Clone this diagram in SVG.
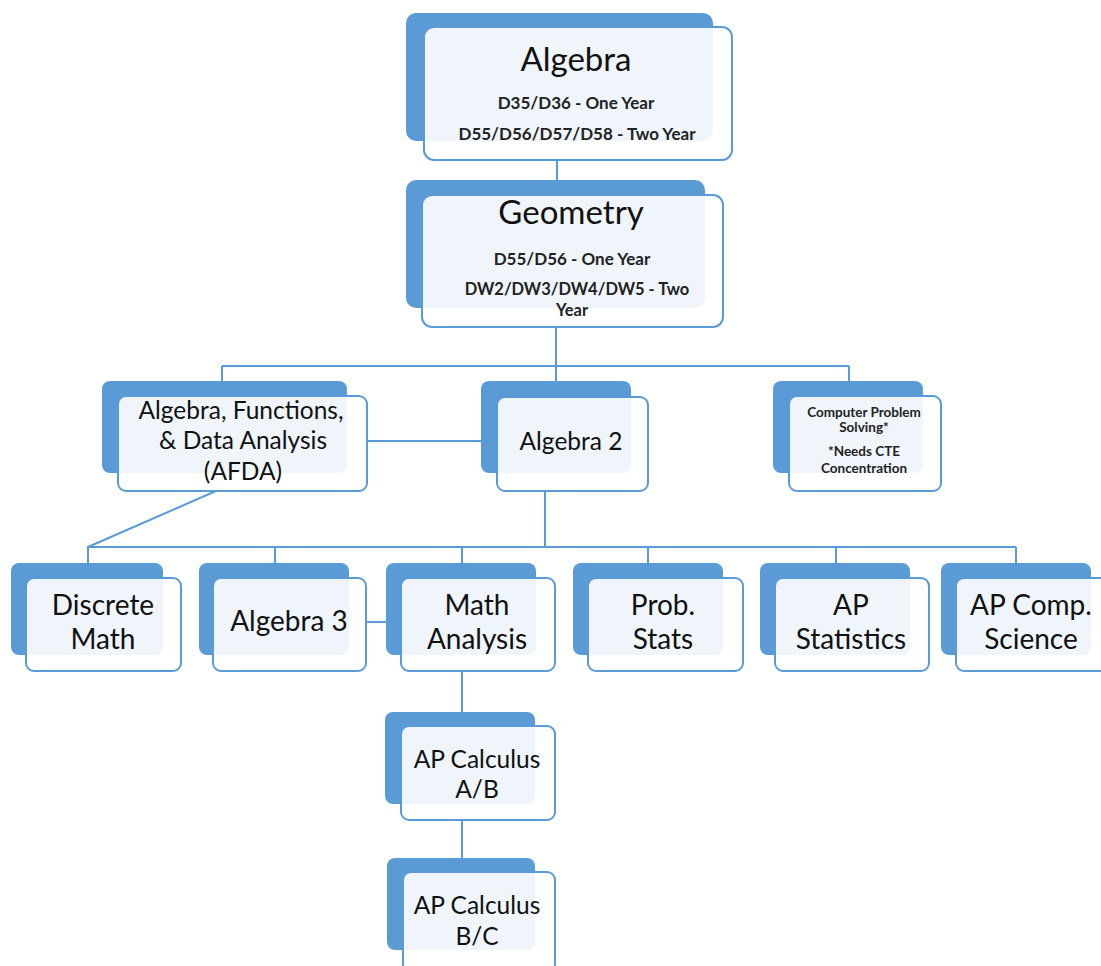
<svg xmlns="http://www.w3.org/2000/svg" width="1101" height="966" viewBox="0 0 1101 966">
<style>
.bk{fill:#5b9bd5;}
.fr{fill:#ffffff;fill-opacity:0.9;stroke:#5b9bd5;stroke-width:2;}
.cn{fill:none;stroke:#5b9bd5;stroke-width:2;}
text{font-family:Lato,"Liberation Sans",sans-serif;fill:#111;text-anchor:middle;}
.t30{font-size:33px;}
.t16{font-size:17px;font-weight:bold;fill:#222;}
.t22{font-size:24.5px;}
.t25{font-size:28px;}
.t11{font-size:13.5px;font-weight:bold;fill:#222;}
</style>
<rect width="1101" height="966" fill="#ffffff"/>
<g id="connectors">
<path class="cn" d="M557 160 V180"/>
<path class="cn" d="M556 327 V366 M222 366 H849 M222 366 V381 M556 366 V381 M849 366 V381"/>
<path class="cn" d="M367 441 H481"/>
<path class="cn" d="M545 491 V546"/>
<path class="cn" d="M216 491 L88 547 V563"/>
<path class="cn" d="M88 547 H1016 M275 547 V563 M462 547 V563 M648 547 V563 M836 547 V563 M1016 547 V563"/>
<path class="cn" d="M366 622 H386"/>
<path class="cn" d="M462 671 V712"/>
<path class="cn" d="M462 820 V858"/>
</g>
<g id="algebra">
<rect class="bk" x="406" y="13" width="307" height="128" rx="10"/>
<rect class="fr" x="424" y="27" width="308" height="133" rx="10"/>
<text class="t30" x="576" y="71">Algebra</text>
<text class="t16" x="576" y="109">D35/D36 - One Year</text>
<text class="t16" x="577" y="140">D55/D56/D57/D58 - Two Year</text>
</g>
<g id="geometry">
<rect class="bk" x="406" y="180" width="299" height="128" rx="10"/>
<rect class="fr" x="422" y="195" width="301" height="132" rx="10"/>
<text class="t30" x="571" y="224">Geometry</text>
<text class="t16" x="572" y="265">D55/D56 - One Year</text>
<text class="t16" x="577" y="295" style="font-size:16.5px">DW2/DW3/DW4/DW5 - Two</text>
<text class="t16" x="572" y="316" style="font-size:16.5px">Year</text>
</g>
<g id="afda">
<rect class="bk" x="102" y="381" width="245" height="92" rx="8"/>
<rect class="fr" x="118" y="396" width="249" height="95" rx="8"/>
<text class="t22" x="241" y="419">Algebra, Functions,</text>
<text class="t22" x="243" y="449">&amp; Data Analysis</text>
<text class="t22" x="243" y="480">(AFDA)</text>
</g>
<g id="algebra2">
<rect class="bk" x="481" y="381" width="150" height="92" rx="8"/>
<rect class="fr" x="497" y="397" width="151" height="94" rx="8"/>
<text class="t22" x="571" y="450">Algebra 2</text>
</g>
<g id="cps">
<rect class="bk" x="773" y="381" width="150" height="92" rx="8"/>
<rect class="fr" x="789" y="396" width="152" height="95" rx="8"/>
<text class="t11" x="864" y="417">Computer Problem</text>
<text class="t11" x="864" y="432">Solving*</text>
<text class="t11" x="864" y="456">*Needs CTE</text>
<text class="t11" x="864" y="473">Concentration</text>
</g>
<g id="discrete">
<rect class="bk" x="11" y="563" width="152" height="92" rx="8"/>
<rect class="fr" x="26" y="578" width="155" height="93" rx="8"/>
<text class="t25" x="103" y="615">Discrete</text>
<text class="t25" x="103" y="649">Math</text>
</g>
<g id="algebra3">
<rect class="bk" x="199" y="563" width="150" height="92" rx="8"/>
<rect class="fr" x="213" y="578" width="153" height="93" rx="8"/>
<text class="t25" x="289" y="631">Algebra 3</text>
</g>
<g id="mathanalysis">
<rect class="bk" x="386" y="563" width="150" height="92" rx="8"/>
<rect class="fr" x="401" y="578" width="154" height="93" rx="8"/>
<text class="t25" x="477" y="615">Math</text>
<text class="t25" x="477" y="649">Analysis</text>
</g>
<g id="probstats">
<rect class="bk" x="573" y="563" width="150" height="92" rx="8"/>
<rect class="fr" x="588" y="578" width="155" height="93" rx="8"/>
<text class="t25" x="663" y="615">Prob.</text>
<text class="t25" x="663" y="649">Stats</text>
</g>
<g id="apstats">
<rect class="bk" x="760" y="563" width="150" height="92" rx="8"/>
<rect class="fr" x="775" y="578" width="154" height="93" rx="8"/>
<text class="t25" x="851" y="615">AP</text>
<text class="t25" x="851" y="649">Statistics</text>
</g>
<g id="apcomp">
<rect class="bk" x="941" y="563" width="150" height="92" rx="8"/>
<rect class="fr" x="956" y="578" width="154" height="93" rx="8"/>
<text class="t25" x="1031" y="615">AP Comp.</text>
<text class="t25" x="1031" y="649">Science</text>
</g>
<g id="calcab">
<rect class="bk" x="385" y="712" width="150" height="92" rx="8"/>
<rect class="fr" x="401" y="726" width="154" height="94" rx="8"/>
<text class="t22" x="477" y="768">AP Calculus</text>
<text class="t22" x="477" y="798">A/B</text>
</g>
<g id="calcbc">
<rect class="bk" x="387" y="858" width="148" height="92" rx="8"/>
<rect class="fr" x="403" y="872" width="152" height="100" rx="8"/>
<text class="t22" x="477" y="914">AP Calculus</text>
<text class="t22" x="477" y="945">B/C</text>
</g>
</svg>
